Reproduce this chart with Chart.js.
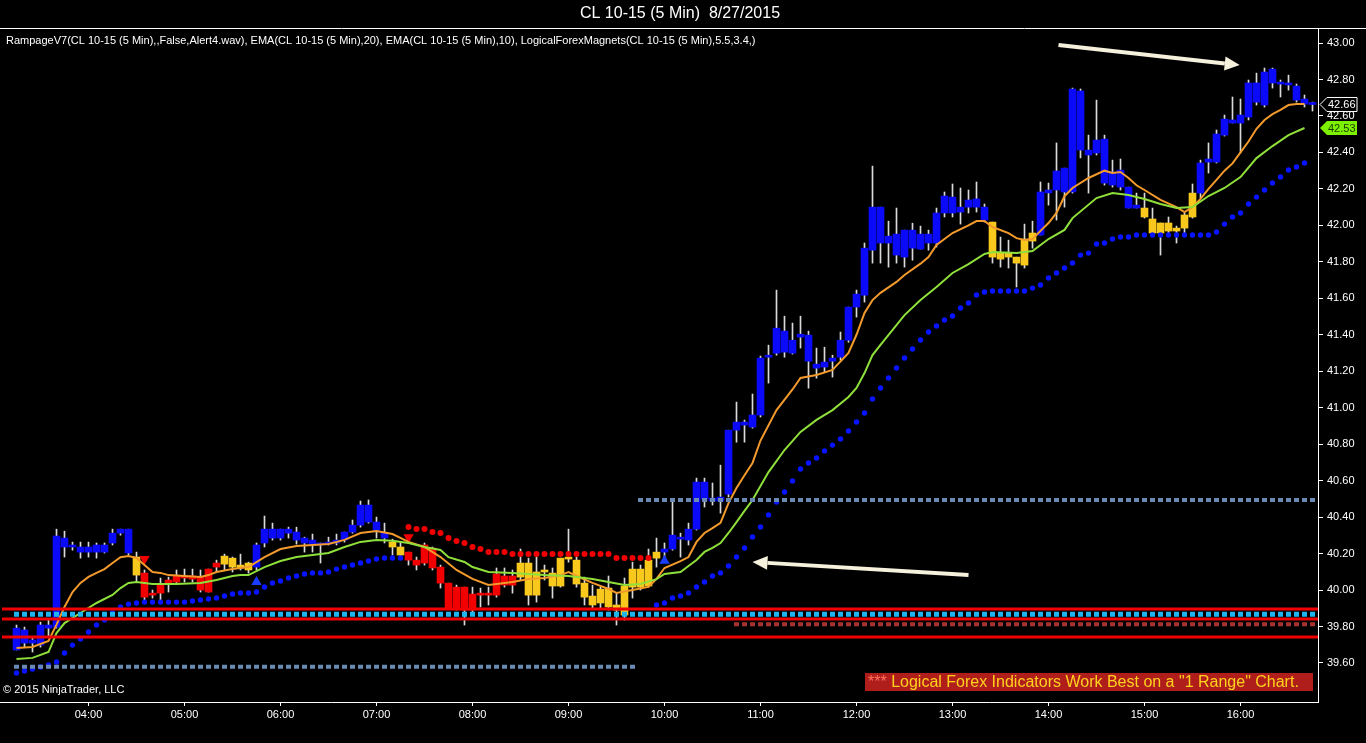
<!DOCTYPE html>
<html>
<head>
<meta charset="utf-8">
<script src="https://cdn.jsdelivr.net/npm/chart.js@4.4.0/dist/chart.umd.min.js"></script>
<style>
  html, body { margin: 0; padding: 0; background: #000; }
  #wrap { width: 1366px; height: 743px; }
</style>
</head>
<body>
<div id="wrap"><canvas id="chart" width="1366" height="743"></canvas></div>
<script>
// CL 10-15, 5 minute bars, 03:15 .. 16:45 (bar index 0 .. 162)
const hourLabels = ['04:00','05:00','06:00','07:00','08:00','09:00','10:00','11:00','12:00','13:00','14:00','15:00','16:00'];
const hourBars = [9, 21, 33, 45, 57, 69, 81, 93, 105, 117, 129, 141, 153];
const priceTicks = [39.6, 39.8, 40.0, 40.2, 40.4, 40.6, 40.8, 41.0, 41.2, 41.4, 41.6, 41.8, 42.0, 42.2, 42.4, 42.6, 42.8, 43.0];

const highs = [
  39.808, 39.797, 39.742, 39.824, 39.835, 40.334, 40.323, 40.263, 40.263, 40.263,
  40.258, 40.258, 40.334, 40.334, 40.334, 40.208, 40.110, 40.000, 40.066, 40.071,
  40.110, 40.115, 40.115, 40.110, 40.115, 40.164, 40.197, 40.181, 40.197, 40.153,
  40.258, 40.406, 40.367, 40.334, 40.345, 40.345, 40.290, 40.307, 40.258, 40.290,
  40.307, 40.318, 40.384, 40.488, 40.494, 40.400, 40.367, 40.279, 40.263, 40.208,
  40.181, 40.258, 40.236, 40.137, 40.038, 40.027, 40.016, 40.016, 40.011, 40.016,
  40.121, 40.121, 40.110, 40.225, 40.175, 40.181, 40.137, 40.121, 40.175, 40.334,
  40.181, 40.071, 40.027, 40.016, 40.077, 39.983, 40.066, 40.153, 40.137, 40.225,
  40.285, 40.258, 40.483, 40.312, 40.367, 40.614, 40.614, 40.587, 40.685, 40.877,
  41.031, 40.932, 41.075, 41.283, 41.343, 41.645, 41.502, 41.464, 41.502, 41.420,
  41.327, 41.332, 41.288, 41.415, 41.552, 41.645, 41.903, 42.325, 42.100, 42.023,
  42.095, 41.974, 42.012, 41.996, 41.974, 42.095, 42.183, 42.227, 42.205, 42.194,
  42.238, 42.117, 42.018, 41.936, 41.919, 41.826, 42.007, 42.023, 42.238, 42.232,
  42.452, 42.314, 42.753, 42.748, 42.495, 42.687, 42.495, 42.358, 42.364, 42.210,
  42.177, 42.177, 42.095, 42.013, 42.046, 41.996, 42.068, 42.227, 42.358, 42.452,
  42.523, 42.605, 42.704, 42.693, 42.797, 42.835, 42.863, 42.863, 42.797, 42.824,
  42.775, 42.715, 42.676
];
const lows = [
  39.671, 39.687, 39.660, 39.687, 39.742, 39.791, 40.181, 40.219, 40.175, 40.181,
  40.175, 40.203, 40.247, 40.301, 40.192, 40.044, 39.945, 39.956, 39.945, 39.989,
  40.038, 40.044, 40.044, 39.989, 39.989, 40.099, 40.110, 40.099, 40.110, 40.093,
  40.110, 40.236, 40.274, 40.274, 40.285, 40.252, 40.208, 40.208, 40.148, 40.247,
  40.247, 40.263, 40.312, 40.345, 40.367, 40.285, 40.258, 40.192, 40.181, 40.137,
  40.110, 40.137, 40.110, 40.011, 39.901, 39.890, 39.808, 39.879, 39.907, 39.918,
  39.961, 40.016, 39.983, 40.055, 39.918, 39.934, 40.055, 39.956, 40.016, 40.153,
  40.016, 39.918, 39.901, 39.901, 39.890, 39.808, 39.835, 39.956, 40.000, 40.016,
  40.126, 40.181, 40.219, 40.181, 40.247, 40.329, 40.455, 40.466, 40.422, 40.510,
  40.811, 40.811, 40.888, 40.949, 41.135, 41.288, 41.277, 41.294, 41.327, 41.107,
  41.162, 41.195, 41.168, 41.261, 41.359, 41.497, 41.579, 41.793, 41.793, 41.771,
  41.793, 41.771, 41.809, 41.870, 41.864, 41.881, 42.046, 42.046, 42.007, 42.068,
  42.073, 42.018, 41.793, 41.771, 41.766, 41.662, 41.766, 41.875, 41.947, 42.111,
  42.029, 42.100, 42.177, 42.370, 42.177, 42.386, 42.221, 42.210, 42.194, 42.095,
  42.095, 42.040, 41.958, 41.837, 41.958, 41.903, 41.958, 42.040, 42.150, 42.287,
  42.342, 42.490, 42.561, 42.397, 42.578, 42.660, 42.649, 42.753, 42.704, 42.742,
  42.676, 42.649, 42.627
];
const opens = [
  39.791, 39.781, 39.726, 39.698, 39.791, 39.797, 40.285, 40.247, 40.236, 40.236,
  40.247, 40.208, 40.258, 40.312, 40.334, 40.181, 40.093, 39.983, 40.027, 40.055,
  40.077, 40.077, 40.077, 40.071, 40.115, 40.148, 40.186, 40.175, 40.137, 40.148,
  40.126, 40.258, 40.334, 40.285, 40.312, 40.318, 40.285, 40.274, 40.258, 40.263,
  40.258, 40.274, 40.318, 40.356, 40.466, 40.373, 40.312, 40.263, 40.236, 40.208,
  40.164, 40.247, 40.230, 40.126, 40.038, 40.016, 40.016, 39.978, 39.983, 39.983,
  40.088, 40.077, 40.077, 40.148, 40.148, 40.099, 40.110, 40.093, 40.175, 40.175,
  40.164, 40.038, 39.967, 40.005, 40.011, 39.918, 40.022, 40.115, 40.115, 40.164,
  40.208, 40.208, 40.225, 40.290, 40.274, 40.334, 40.592, 40.504, 40.488, 40.526,
  40.877, 40.921, 40.894, 40.960, 41.277, 41.299, 41.420, 41.370, 41.403, 41.398,
  41.239, 41.223, 41.255, 41.277, 41.370, 41.552, 41.617, 41.864, 42.100, 41.941,
  41.952, 41.974, 41.875, 41.952, 41.903, 41.903, 42.068, 42.155, 42.100, 42.100,
  42.100, 42.100, 42.018, 41.848, 41.848, 41.826, 41.782, 41.958, 41.947, 42.178,
  42.194, 42.183, 42.183, 42.737, 42.413, 42.397, 42.473, 42.221, 42.303, 42.210,
  42.111, 42.095, 42.035, 42.013, 42.013, 41.985, 41.985, 42.046, 42.177, 42.347,
  42.347, 42.495, 42.578, 42.561, 42.594, 42.676, 42.660, 42.781, 42.786, 42.781,
  42.764, 42.693, 42.671
];
const closes = [
  39.671, 39.709, 39.709, 39.808, 39.808, 40.296, 40.236, 40.236, 40.208, 40.208,
  40.208, 40.247, 40.312, 40.334, 40.203, 40.082, 39.961, 39.972, 39.983, 40.038,
  40.044, 40.066, 40.060, 40.000, 39.989, 40.126, 40.142, 40.126, 40.121, 40.110,
  40.247, 40.334, 40.285, 40.334, 40.334, 40.274, 40.258, 40.247, 40.247, 40.252,
  40.274, 40.318, 40.356, 40.466, 40.373, 40.329, 40.285, 40.236, 40.192, 40.164,
  40.137, 40.148, 40.121, 40.038, 39.901, 39.901, 39.890, 39.890, 39.972, 39.972,
  39.972, 40.027, 40.027, 40.071, 39.972, 39.972, 40.099, 40.022, 40.022, 40.170,
  40.033, 39.961, 39.918, 39.929, 39.907, 39.890, 39.863, 40.016, 40.016, 40.022,
  40.175, 40.225, 40.301, 40.279, 40.334, 40.592, 40.499, 40.488, 40.510, 40.877,
  40.921, 40.905, 40.960, 41.272, 41.288, 41.436, 41.305, 41.299, 41.387, 41.255,
  41.217, 41.250, 41.272, 41.370, 41.552, 41.623, 41.875, 42.100, 41.903, 41.903,
  41.837, 41.826, 41.974, 41.870, 41.952, 42.068, 42.161, 42.068, 42.073, 42.139,
  42.145, 42.029, 41.826, 41.815, 41.826, 41.793, 41.925, 41.914, 42.183, 42.194,
  42.298, 42.314, 42.748, 42.413, 42.386, 42.468, 42.232, 42.292, 42.210, 42.095,
  42.095, 42.046, 41.958, 41.958, 41.969, 41.969, 42.057, 42.177, 42.342, 42.364,
  42.501, 42.583, 42.561, 42.605, 42.781, 42.781, 42.841, 42.857, 42.775, 42.770,
  42.687, 42.665, 42.663
];
// Rampage trend colour, as runs of bars: B blue, R red, Y yellow
const trendRuns = [['B',15],['Y',1],['R',10],['Y',4],['B',17],['Y',2],['R',14],['Y',18],['B',41],['Y',6],['B',13],['Y',7],['B',15]];

// LogicalForexMagnets dots (one per bar)
const lowerMagnet = [
  39.545, 39.556, 39.567, 39.578, 39.589, 39.605, 39.655, 39.698, 39.731, 39.770,
  39.808, 39.836, 39.874, 39.907, 39.923, 39.929, 39.934, 39.934, 39.934, 39.934,
  39.934, 39.934, 39.940, 39.945, 39.951, 39.956, 39.967, 39.978, 39.984, 39.984,
  39.989, 40.017, 40.039, 40.050, 40.066, 40.077, 40.088, 40.094, 40.094, 40.099,
  40.115, 40.126, 40.137, 40.148, 40.159, 40.170, 40.176, 40.176, 40.176, null,
  null, null, null, null, null, null, null, null, null, null,
  null, null, null, null, null, null, null, null, null, null,
  null, null, null, null, null, null, null, null, null, null,
  39.918, 39.929, 39.956, 39.967, 39.984, 40.017, 40.044, 40.077, 40.094, 40.132,
  40.181, 40.231, 40.291, 40.346, 40.412, 40.483, 40.538, 40.598, 40.664, 40.697,
  40.724, 40.763, 40.795, 40.828, 40.872, 40.922, 40.971, 41.048, 41.108, 41.163,
  41.218, 41.273, 41.322, 41.371, 41.415, 41.448, 41.481, 41.503, 41.547, 41.574,
  41.618, 41.635, 41.640, 41.640, 41.640, 41.640, 41.640, 41.656, 41.673, 41.711,
  41.739, 41.766, 41.794, 41.837, 41.848, 41.898, 41.903, 41.925, 41.936, 41.936,
  41.947, 41.947, 41.947, 41.947, 41.947, 41.947, 41.947, 41.947, 41.947, 41.947,
  41.964, 42.007, 42.046, 42.068, 42.117, 42.155, 42.194, 42.232, 42.265, 42.304,
  42.320, 42.342, null
];
const upperMagnetStart = 49;
const upperMagnet = [
  40.346, 40.335, 40.335, 40.318, 40.313, 40.286, 40.269, 40.258, 40.236, 40.225,
  40.209, 40.209, 40.209, 40.198, 40.198, 40.198, 40.198, 40.198, 40.198, 40.198,
  40.198, 40.198, 40.198, 40.198, 40.198, 40.198, 40.176, 40.176, 40.176, 40.176,
  40.176
];

// EMA lines (bar index, price)
const emaOrangeBars = [0,2,4,5,6,7,8,9,10,11,12,13,14,15,16,17,18,19,21,23,24,25,27,28,29,31,33,35,37,39,41,43,45,47,49,51,53,55,57,59,62,64,66,68,69,70,72,74,75,77,79,80,81,83,84,85,86,87,88,89,90,91,92,93,95,97,98,100,102,104,105,106,107,108,110,111,113,114,115,117,119,120,121,122,124,125,126,127,128,129,130,131,132,134,136,137,138,139,140,141,143,145,146,147,148,149,150,151,152,153,154,155,156,157,158,159,160,161];
const emaOrangeVals = [39.682,39.688,39.721,39.810,39.907,39.989,40.039,40.072,40.094,40.115,40.148,40.180,40.187,40.176,40.137,40.099,40.094,40.082,40.077,40.072,40.082,40.099,40.115,40.121,40.126,40.181,40.225,40.242,40.247,40.253,40.275,40.313,40.324,40.307,40.264,40.236,40.181,40.110,40.061,40.028,40.044,40.061,40.066,40.082,40.099,40.077,40.039,40.006,39.984,40.000,40.017,40.061,40.121,40.159,40.181,40.264,40.313,40.340,40.368,40.477,40.560,40.630,40.697,40.820,40.987,41.100,41.163,41.179,41.207,41.300,41.400,41.520,41.590,41.630,41.690,41.728,41.790,41.826,41.892,41.958,42.000,42.024,42.024,41.991,41.958,41.930,41.920,41.925,41.970,42.013,42.068,42.160,42.205,42.260,42.300,42.287,42.293,42.260,42.220,42.194,42.140,42.100,42.073,42.100,42.145,42.200,42.250,42.300,42.340,42.400,42.460,42.530,42.578,42.610,42.633,42.660,42.665,42.665];
const emaGreenBars = [0,2,4,5,6,8,10,12,13,14,15,17,20,23,25,27,28,29,31,33,35,37,39,41,43,45,47,49,51,53,54,56,57,59,62,64,66,69,72,74,76,78,80,81,83,84,85,86,87,88,89,90,91,92,94,96,98,100,102,104,105,106,107,108,111,113,115,117,119,121,122,125,127,129,131,132,135,137,139,141,143,145,147,149,151,153,155,157,159,161];
const emaGreenVals = [39.622,39.628,39.660,39.764,39.819,39.874,39.929,39.973,40.011,40.039,40.044,40.033,40.033,40.039,40.055,40.077,40.082,40.082,40.126,40.159,40.181,40.192,40.203,40.236,40.264,40.275,40.270,40.258,40.236,40.220,40.180,40.154,40.126,40.099,40.094,40.088,40.082,40.077,40.061,40.044,40.028,40.033,40.060,40.088,40.099,40.132,40.165,40.209,40.231,40.258,40.313,40.373,40.434,40.494,40.647,40.768,40.867,40.933,40.987,41.059,41.108,41.190,41.289,41.344,41.508,41.591,41.662,41.739,41.788,41.843,41.854,41.848,41.859,41.925,41.975,42.040,42.150,42.177,42.166,42.145,42.117,42.095,42.101,42.161,42.205,42.265,42.369,42.435,42.495,42.534];

// horizontal levels
const solidLevels = [39.896, 39.841, 39.742];
const dottedLevels = [39.867, 39.580, 40.494, 39.813];
const dottedFrom = [0, 0, 78, 90];
const dottedTo = [162, 77, 162, 162];
const dottedColors = ['#1db4ec', '#6a8ab4', '#6a8ab4', '#a83232'];

// Rampage signal arrows
const upSignalBars = [30, 81];
const upSignalVals = [40.044, 40.160];
const downSignalBars = [16, 49];
const downSignalVals = [40.170, 40.290];

// white note arrows [bar, price] -> [bar, price]
const noteFrom = [[130.25, 42.989], [119.0, 40.082]];
const noteTo = [[152.9, 42.879], [92.0, 40.154]];

const xMin = -1.8125, xMax = 162.6875;
const yMin = 39.386, yMax = 43.077;

const trendColor = { B: '#0a0af8', R: '#f20000', Y: '#f8c81c' };
const barColors = [];
trendRuns.forEach(([c, n]) => { for (let k = 0; k < n; k++) barColors.push(trendColor[c]); });

const idx = highs.map((_, i) => i);
const wickData = idx.map(i => ({ x: i, y: [lows[i], highs[i]] }));
const bodyData = idx.map(i => ({ x: i, y: [opens[i], closes[i]] }));

function pts(bars, vals) { return bars.map((b, k) => ({ x: b, y: vals[k] })); }
function levelLine(p, a, b) { return [{ x: a, y: p }, { x: b, y: p }]; }

const datasets = [];
solidLevels.forEach(p => datasets.push({
  type: 'line', data: levelLine(p, xMin, xMax), borderColor: '#f00000', borderWidth: 3,
  pointRadius: 0, order: 0
}));
dottedLevels.forEach((p, k) => datasets.push({
  type: 'line', data: levelLine(p, dottedFrom[k] - 0.3125, dottedTo[k] + 0.3125),
  borderColor: dottedColors[k], borderWidth: k === 0 ? 5 : 4, borderDash: [5, 3],
  borderCapStyle: 'butt', pointRadius: 0, order: 0
}));
datasets.push({
  type: 'line', data: pts(emaGreenBars, emaGreenVals), borderColor: '#8fe03a', borderWidth: 2,
  pointRadius: 0, tension: 0, order: 1
});
datasets.push({
  type: 'line', data: pts(emaOrangeBars, emaOrangeVals), borderColor: '#f39a2c', borderWidth: 2,
  pointRadius: 0, tension: 0, order: 1
});
datasets.push({
  type: 'line', showLine: false, order: 2,
  data: idx.filter(i => lowerMagnet[i] != null).map(i => ({ x: i, y: lowerMagnet[i] })),
  pointRadius: 2.7, pointBackgroundColor: '#0814ff', pointBorderWidth: 0
});
datasets.push({
  type: 'line', showLine: false, order: 2,
  data: upperMagnet.map((v, k) => ({ x: upperMagnetStart + k, y: v })),
  pointRadius: 3, pointBackgroundColor: '#f00000', pointBorderWidth: 0
});
datasets.push({
  type: 'line', showLine: false, order: 2, data: pts(upSignalBars, upSignalVals),
  pointStyle: 'triangle', pointRadius: 6, pointBackgroundColor: '#1a3cff', pointBorderWidth: 0
});
datasets.push({
  type: 'line', showLine: false, order: 2, data: pts(downSignalBars, downSignalVals),
  pointStyle: 'triangle', rotation: 180, pointRadius: 6, pointBackgroundColor: '#f00000', pointBorderWidth: 0
});
datasets.push({
  type: 'bar', data: bodyData, backgroundColor: barColors, barThickness: 7, minBarLength: 2,
  grouped: false, borderWidth: 0, order: 5
});
datasets.push({
  type: 'bar', data: wickData, backgroundColor: '#d9d9d9', barThickness: 1,
  grouped: false, borderWidth: 0, order: 6
});

function drawArrow(ctx, x1, y1, x2, y2) {
  const a = Math.atan2(y2 - y1, x2 - x1);
  const head = 15, hw = 7;
  const bx = x2 - head * Math.cos(a), by = y2 - head * Math.sin(a);
  ctx.strokeStyle = '#f6f1dc';
  ctx.fillStyle = '#f6f1dc';
  ctx.lineWidth = 4;
  ctx.beginPath(); ctx.moveTo(x1, y1); ctx.lineTo(bx, by); ctx.stroke();
  ctx.beginPath();
  ctx.moveTo(x2, y2);
  ctx.lineTo(bx - hw * Math.sin(a), by + hw * Math.cos(a));
  ctx.lineTo(bx + hw * Math.sin(a), by - hw * Math.cos(a));
  ctx.closePath(); ctx.fill();
}

function priceTag(ctx, y, text, fill, stroke, color) {
  const x0 = 1320, w = 37, h = 14;
  ctx.beginPath();
  ctx.moveTo(x0, y);
  ctx.lineTo(x0 + 7, y - h / 2);
  ctx.lineTo(x0 + w, y - h / 2);
  ctx.lineTo(x0 + w, y + h / 2);
  ctx.lineTo(x0 + 7, y + h / 2);
  ctx.closePath();
  ctx.fillStyle = fill; ctx.fill();
  if (stroke) { ctx.strokeStyle = stroke; ctx.lineWidth = 1; ctx.stroke(); }
  ctx.fillStyle = color;
  ctx.font = '11px Arial, "Liberation Sans", sans-serif';
  ctx.textAlign = 'left'; ctx.textBaseline = 'middle';
  ctx.fillText(text, x0 + 8, y + 0.5);
}

const ninjaDecor = {
  id: 'ninjaDecor',
  beforeDraw(chart) {
    const ctx = chart.ctx;
    ctx.save();
    ctx.fillStyle = '#000';
    ctx.fillRect(0, 0, chart.width, chart.height);
    ctx.restore();
  },
  afterDraw(chart) {
    const ctx = chart.ctx, xs = chart.scales.x, ys = chart.scales.y;
    const area = chart.chartArea;
    ctx.save();
    // frame lines
    ctx.strokeStyle = '#fff'; ctx.lineWidth = 1;
    ctx.beginPath(); ctx.moveTo(0, 28.5); ctx.lineTo(chart.width, 28.5); ctx.stroke();
    ctx.beginPath(); ctx.moveTo(0, area.bottom + 0.5); ctx.lineTo(area.left + 1, area.bottom + 0.5); ctx.stroke();

    ctx.fillStyle = '#fff';
    ctx.textBaseline = 'middle';
    ctx.textAlign = 'center';
    ctx.font = '16px Arial, "Liberation Sans", sans-serif';
    ctx.fillText('CL 10-15 (5 Min)  8/27/2015', 680, 14);

    ctx.textAlign = 'left';
    ctx.font = '11px Arial, "Liberation Sans", sans-serif';
    ctx.fillText('RampageV7(CL 10-15 (5 Min),,False,Alert4.wav), EMA(CL 10-15 (5 Min),20), EMA(CL 10-15 (5 Min),10), LogicalForexMagnets(CL 10-15 (5 Min),5.5,3.4,)', 6, 41);
    ctx.fillText('\u00a9 2015 NinjaTrader, LLC', 3, 690);

    // note arrows
    noteFrom.forEach((f, k) => {
      const t = noteTo[k];
      drawArrow(ctx, xs.getPixelForValue(f[0]), ys.getPixelForValue(f[1]),
                xs.getPixelForValue(t[0]), ys.getPixelForValue(t[1]));
    });

    // advert box
    ctx.fillStyle = '#b01e1c';
    ctx.fillRect(865, 673, 448, 18);
    ctx.font = '16px Arial, "Liberation Sans", sans-serif';
    ctx.fillStyle = '#ff7060';
    ctx.fillText('***', 868, 682.5);
    const sw = ctx.measureText('*** ').width;
    ctx.fillStyle = '#ffd21e';
    ctx.fillText('Logical Forex Indicators Work Best on a "1 Range" Chart.', 868 + sw, 682.5);

    // price markers on the axis
    const last = closes[closes.length - 1];
    const lastGreen = emaGreenVals[emaGreenVals.length - 1];
    priceTag(ctx, ys.getPixelForValue(last), last.toFixed(2), '#000', '#fff', '#fff');
    priceTag(ctx, ys.getPixelForValue(lastGreen), lastGreen.toFixed(2), '#7cf000', null, '#1a3a00');
    ctx.restore();
  }
};

Chart.defaults.font.family = 'Arial, "Liberation Sans", sans-serif';
Chart.defaults.font.size = 11;

new Chart(document.getElementById('chart').getContext('2d'), {
  type: 'bar',
  data: { datasets },
  options: {
    responsive: false,
    devicePixelRatio: 1,
    animation: false,
    layout: { autoPadding: false, padding: { top: 29, left: 2, right: 0, bottom: 0 } },
    plugins: { legend: { display: false }, tooltip: { enabled: false }, title: { display: false } },
    scales: {
      x: {
        type: 'linear', min: xMin, max: xMax, offset: false,
        afterBuildTicks: ax => { ax.ticks = hourBars.map(v => ({ value: v })); },
        afterFit: s => { s.height = 41; s.paddingLeft = 0; s.paddingRight = 0; },
        ticks: {
          color: '#fff', padding: 2, maxRotation: 0, autoSkip: false,
          callback: v => hourLabels[hourBars.indexOf(v)]
        },
        grid: { offset: false, drawOnChartArea: false, drawTicks: true, tickLength: 4, color: '#fff' },
        border: { display: true, color: '#fff' }
      },
      y: {
        type: 'linear', position: 'right', min: yMin, max: yMax,
        afterBuildTicks: ax => { ax.ticks = priceTicks.map(v => ({ value: v })); },
        afterFit: s => { s.width = 48; },
        ticks: { color: '#fff', padding: 4, callback: v => v.toFixed(2) },
        grid: { drawOnChartArea: false, drawTicks: true, tickLength: 5, color: '#fff' },
        border: { display: true, color: '#fff' }
      }
    }
  },
  plugins: [ninjaDecor]
});
</script>
</body>
</html>
